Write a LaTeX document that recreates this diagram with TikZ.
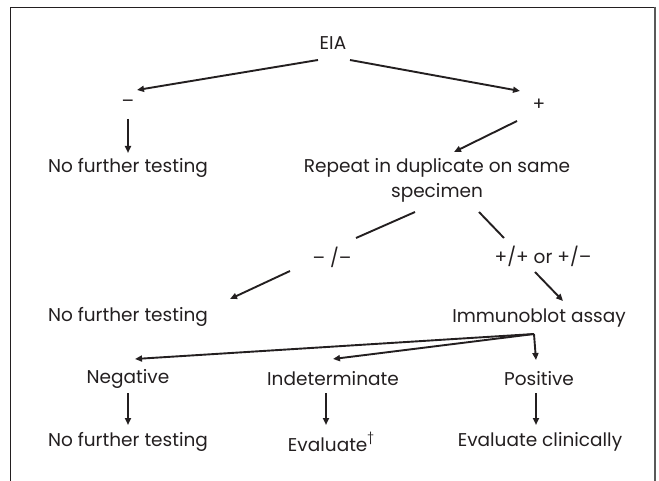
\documentclass[tikz,border=0pt]{standalone}
\usepackage{fontspec}
\setmainfont{Poppins}
\usetikzlibrary{arrows.meta}
\definecolor{ink}{HTML}{231F20}
\tikzset{
  lbl/.style={inner sep=0pt, text=ink, font=\fontsize{18.5}{25}\selectfont, align=center},
  arr/.style={draw=ink, line width=1.9pt, -{Triangle[length=7pt,width=6pt]}},
  ln/.style={draw=ink, line width=1.9pt},
}
\begin{document}
\begin{tikzpicture}[x=1pt,y=-1pt]
\useasboundingbox (0,0) rectangle (659,481);
\draw[ink, line width=1pt] (10,481) -- (10,7.5) -- (655,7.5);
\draw[black!65, line width=2pt] (655,7) -- (655,481);

\node[lbl] (eia) at (333,43) {EIA};
\node[lbl] (neg1) at (128,104) {–};
\node[lbl] (pos1) at (539,105) {+};
\node[lbl] (nft1) at (128,168) {No further testing};
\node[lbl] (rep) at (437,180.5) {Repeat in duplicate on same\\specimen};
\node[lbl] (mm) at (332,257) {– /–};
\node[lbl] (pp) at (543,256) {+/+ or +/–};
\node[lbl] (nft2) at (128,317) {No further testing};
\node[lbl] (ib) at (539,318) {Immunoblot assay};
\node[lbl] (negative) at (128,379) {Negative};
\node[lbl] (indet) at (333,379) {Indeterminate};
\node[lbl] (positive) at (539,379) {Positive};
\node[lbl] (nft3) at (128,442) {No further testing};
\node[lbl] (evaluate) at (331,442) {Evaluate\raisebox{0.55em}{\fontsize{12}{12}\selectfont †}};
\node[lbl] (evalc) at (540,442) {Evaluate clinically};

\draw[arr] ([xshift=-15pt,yshift=-17pt]eia.center) -- ([xshift=9pt,yshift=14pt]neg1.center);
\draw[arr] ([xshift=17pt,yshift=-17pt]eia.center) -- ([xshift=-19pt,yshift=14pt]pos1.center);
\draw[arr] ([yshift=-15pt]neg1.center) -- ([yshift=15pt]nft1.center);
\draw[arr] ([xshift=-22pt,yshift=-16pt]pos1.center) -- ([xshift=17pt,yshift=28.5pt]rep.center);
\draw[ln] ([xshift=-22pt,yshift=-31.5pt]rep.center) -- ([xshift=24pt,yshift=19pt]mm.center);
\draw[ln] ([xshift=42pt,yshift=-31.5pt]rep.center) -- ([xshift=-39pt,yshift=18pt]pp.center);
\draw[arr] ([xshift=-42pt,yshift=-14pt]mm.center) -- ([xshift=102pt,yshift=18pt]nft2.center);
\draw[arr] ([xshift=-8pt,yshift=-16pt]pp.center) -- ([xshift=24pt,yshift=17pt]ib.center);
\coordinate (jn) at ([xshift=-5pt,yshift=-16pt]ib.center);
\draw[arr] (jn) -- ([xshift=7pt,yshift=20pt]negative.center);
\draw[arr] (jn) -- ([yshift=20pt]indet.center);
\draw[arr] (jn) -- ([xshift=-3pt,yshift=19pt]positive.center);
\draw[arr] ([yshift=-14pt]negative.center) -- ([yshift=17pt]nft3.center);
\draw[arr] ([xshift=-7pt,yshift=-14pt]indet.center) -- ([xshift=-5pt,yshift=17pt]evaluate.center);
\draw[arr] ([xshift=-3pt,yshift=-14pt]positive.center) -- ([xshift=-4pt,yshift=17pt]evalc.center);
\end{tikzpicture}
\end{document}
